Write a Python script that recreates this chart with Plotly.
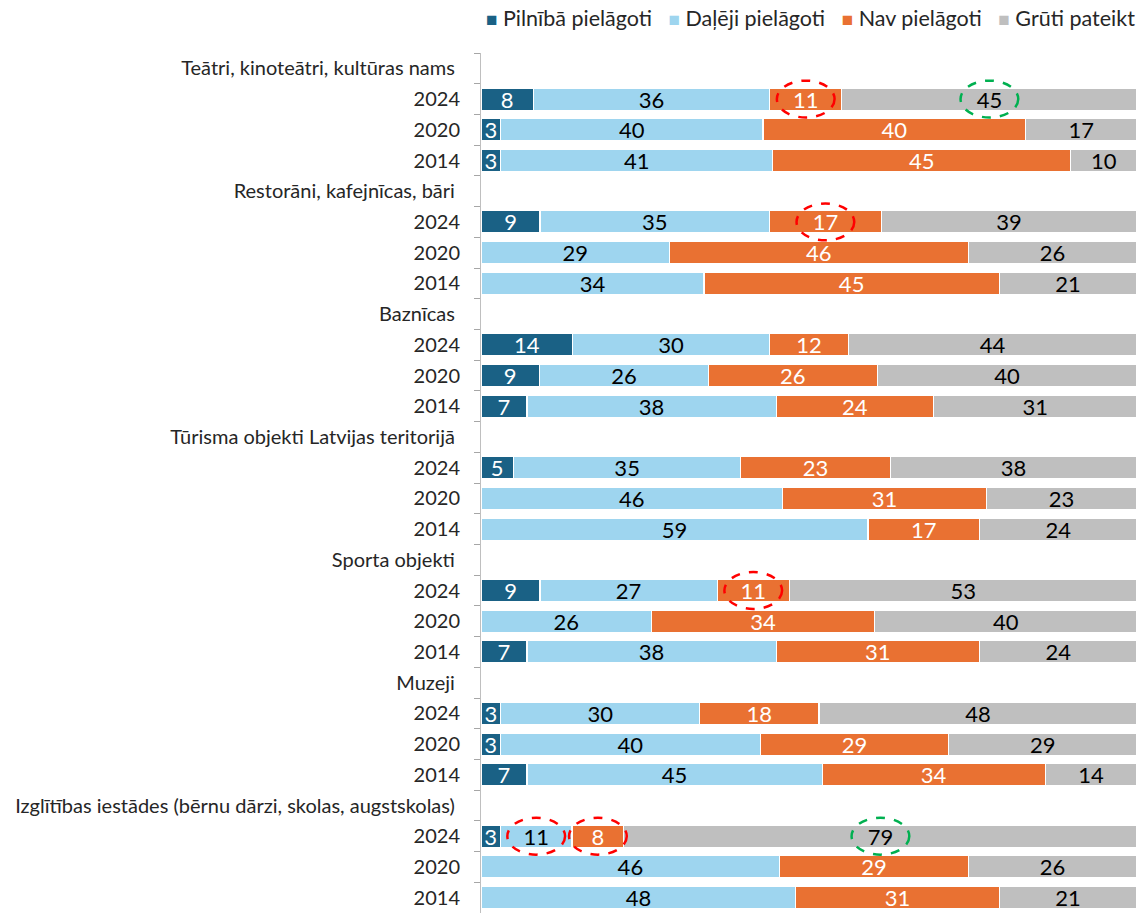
import plotly.graph_objects as go

# Survey categories and survey years
categories = [
    "Teātri, kinoteātri, kultūras nams",
    "Restorāni, kafejnīcas, bāri",
    "Baznīcas",
    "Tūrisma objekti Latvijas teritorijā",
    "Sporta objekti",
    "Muzeji",
    "Izglītības iestādes (bērnu dārzi, skolas, augstskolas)",
]
years = ["2024", "2020", "2014"]

series_names = ["Pilnībā pielāgoti", "Daļēji pielāgoti", "Nav pielāgoti", "Grūti pateikt"]

# Values per category, rows ordered 2024, 2020, 2014
pilnibā = [[8, 3, 3], [9, 0, 0], [14, 9, 7], [5, 0, 0], [9, 0, 7], [3, 3, 7], [3, 0, 0]]
daleji = [[36, 40, 41], [35, 29, 34], [30, 26, 38], [35, 46, 59], [27, 26, 38], [30, 40, 45], [11, 46, 48]]
nav = [[11, 40, 45], [17, 46, 45], [12, 26, 24], [23, 31, 17], [11, 34, 31], [18, 29, 34], [8, 29, 31]]
gruti = [[45, 17, 10], [39, 26, 21], [44, 40, 31], [38, 23, 24], [53, 40, 24], [48, 29, 14], [79, 26, 21]]

series_values = [pilnibā, daleji, nav, gruti]
colors = ["#1A6185", "#9ED5EF", "#E97132", "#BFBFBF"]
text_colors = ["white", "black", "white", "black"]

# Highlighted segments: (category index, year index, series index, ring colour)
highlights = [
    (0, 0, 2, "#FF0000"),
    (0, 0, 3, "#00B050"),
    (1, 0, 2, "#FF0000"),
    (4, 0, 2, "#FF0000"),
    (6, 0, 1, "#FF0000"),
    (6, 0, 2, "#FF0000"),
    (6, 0, 3, "#00B050"),
]

FONT = "Lato, Liberation Sans, sans-serif"
TEXT = "#262626"

# Build row layout: a header row followed by the three year rows
row_labels = []
row_pos = []
cat_rows = []
r = 0
for c, name in enumerate(categories):
    row_labels.append(name + "\u00a0")
    row_pos.append(r)
    r += 1
    rows = []
    for y in years:
        row_labels.append(y)
        row_pos.append(r)
        rows.append(r)
        r += 1
    cat_rows.append(rows)
n_rows = r

fig = go.Figure()
for s, name in enumerate(series_names):
    xs, ys, texts = [], [], []
    for c in range(len(categories)):
        for k in range(len(years)):
            v = series_values[s][c][k]
            xs.append(v)
            ys.append(cat_rows[c][k])
            texts.append(str(v) if v else "")
    fig.add_trace(go.Bar(
        name=name,
        x=xs,
        y=ys,
        orientation="h",
        marker=dict(color=colors[s], line=dict(color="white", width=1.2)),
        text=texts,
        textposition="inside",
        insidetextanchor="middle",
        textangle=0,
        insidetextfont=dict(family=FONT, size=22, color=text_colors[s]),
        hoverinfo="skip",
        showlegend=False,
    ))

# Dashed rings around highlighted segments, centred on the normalised segment
half_w = 4.4
half_h = 0.6
for c, k, s, col in highlights:
    vals = [series_values[i][c][k] for i in range(4)]
    total = sum(vals)
    start = sum(vals[:s])
    cx = (start + vals[s] / 2) / total * 100
    cy = cat_rows[c][k]
    fig.add_shape(
        type="circle", xref="x", yref="y",
        x0=cx - half_w, x1=cx + half_w, y0=cy - half_h, y1=cy + half_h,
        line=dict(color=col, width=2.5, dash="dash"),
        fillcolor="rgba(0,0,0,0)",
    )

# Single-line legend: coloured squares followed by series names
legend_parts = []
for name, col in zip(series_names, colors):
    legend_parts.append(
        f"<span style='color:{col};font-size:19px'>■</span>&nbsp;{name}"
    )
fig.add_annotation(
    text="&nbsp;&nbsp;&nbsp;".join(legend_parts),
    xref="paper", yref="paper",
    x=1.0, y=1.0 + 35 / 860,
    xanchor="right", yanchor="middle",
    showarrow=False,
    font=dict(family=FONT, size=21.5, color=TEXT),
)

boundaries = [p - 0.5 for p in range(n_rows + 1)]

fig.update_layout(
    width=1143,
    height=913,
    barmode="stack",
    barnorm="percent",
    bargap=0.28,
    plot_bgcolor="white",
    paper_bgcolor="white",
    margin=dict(l=481, r=6, t=53, b=0, autoexpand=False),
    font=dict(family=FONT, size=20, color=TEXT),
    uniformtext=dict(minsize=22, mode="show"),
    showlegend=False,
    xaxis=dict(
        range=[0, 100],
        visible=False,
        showgrid=False,
        zeroline=False,
    ),
    yaxis=dict(
        range=[n_rows - 0.5, -0.5],
        tickmode="array",
        tickvals=row_pos,
        ticktext=row_labels,
        ticks="",
        ticklabelstandoff=16,
        showgrid=False,
        zeroline=False,
        showline=True,
        linecolor="#BFBFBF",
        linewidth=1,
        tickfont=dict(family=FONT, size=20, color=TEXT),
        minor=dict(tickmode="array", tickvals=boundaries, ticks="outside", ticklen=6,
                   tickcolor="#A6A6A6", showgrid=False),
    ),
)

fig.write_html("out.html")
